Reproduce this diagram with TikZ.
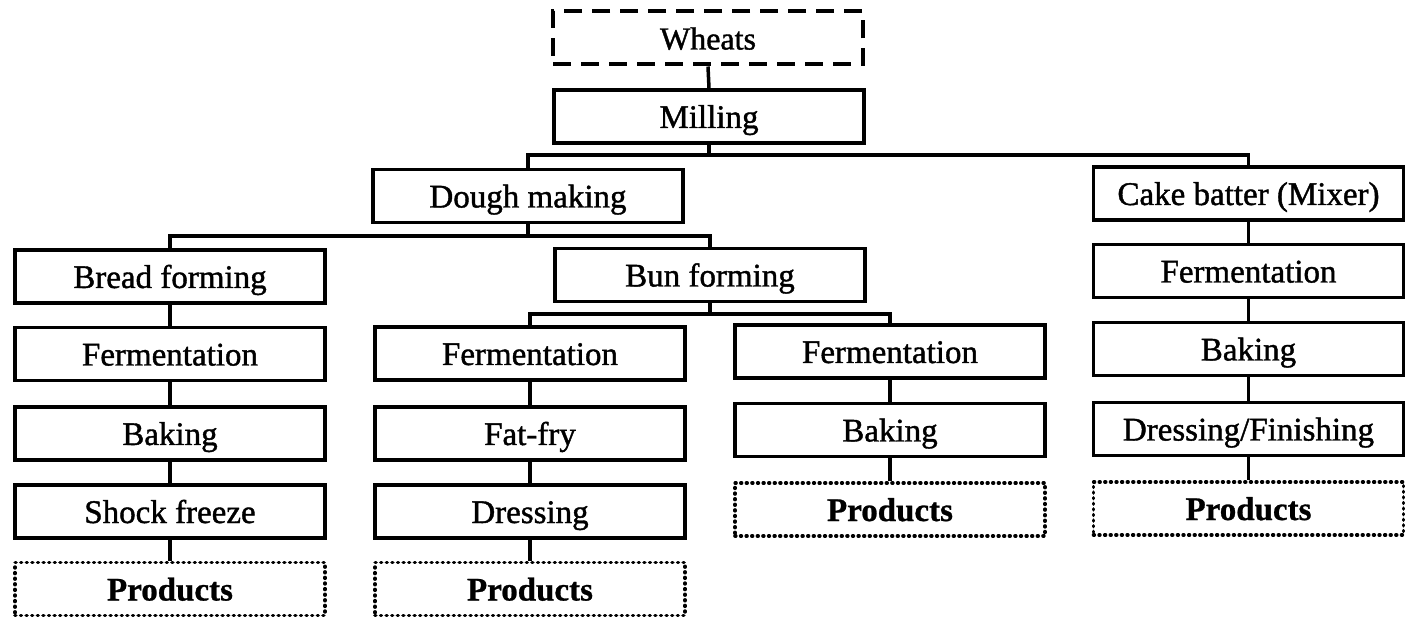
\documentclass[tikz,border=0pt]{standalone}
\usepackage{fontspec}
\setmainfont{Liberation Serif}
\newfontfamily\heavyserif[FakeBold=1.2]{Liberation Serif}
\newfontfamily\heavybold[FakeBold=0.8]{Liberation Serif Bold}
\begin{document}
\begin{tikzpicture}[x=1pt,y=-1pt,
  every node/.style={font=\fontsize{33}{36}\selectfont\heavyserif},
  box/.style={draw, line width=3.5pt, minimum width=310pt, minimum height=53pt,
    inner sep=0pt, text height=24.5pt, text depth=1.5pt, fill=white},
  prodbox/.style={box, line width=3.6pt, dash pattern=on 0.8pt off 4.8pt, line cap=round,
    font=\fontsize{33}{36}\selectfont\heavybold},
  wheatbox/.style={box, line width=4pt, dash pattern=on 18pt off 10pt,
    font=\fontsize{32}{36}\selectfont\heavyserif},
  link/.style={line width=3.5pt}]
\useasboundingbox (0,0) rectangle (1406,617);
% top
\node[wheatbox] (wheats) at (708,38) {Wheats};
\node[box] (milling) at (709,116.5) {Milling};
\node[box] (dough) at (528,196) {Dough making};
\node[box] (cake) at (1248.5,193.5) {Cake batter (Mixer)};
\node[box] (bread) at (170,276.5) {Bread forming};
\node[box] (bun) at (710,275) {Bun forming};
% left column
\node[box] (f1) at (170,354) {Fermentation};
\node[box] (b1) at (170,433.5) {Baking};
\node[box] (s1) at (170,511.5) {Shock freeze};
\node[prodbox] (p1) at (170,589) {Products};
% middle column
\node[box] (f2) at (530,353.5) {Fermentation};
\node[box] (ff2) at (530,433.5) {Fat-fry};
\node[box] (d2) at (530,511.5) {Dressing};
\node[prodbox] (p2) at (530,589) {Products};
% right-middle column
\node[box] (f3) at (890,351.5) {Fermentation};
\node[box] (b3) at (890,430) {Baking};
\node[prodbox] (p3) at (890,509.5) {Products};
% right column
\node[box] (f4) at (1248.5,271) {Fermentation};
\node[box] (b4) at (1248.5,349) {Baking};
\node[box] (d4) at (1248.5,429) {Dressing/Finishing};
\node[prodbox] (p4) at (1248.5,508.5) {Products};
% bus coordinates
\coordinate (busA) at (709,155);
\coordinate (busB) at (528,236);
\coordinate (busC) at (710,314);
% connectors
\draw[link] (wheats.south) -- (milling.north);
\draw[link] (milling.south) -- (busA);
\draw[link] (dough.north) |- (busA) -| (cake.north);
\draw[link] (dough.south) -- (busB);
\draw[link] (bread.north) |- (busB) -| (bun.north);
\draw[link] (bun.south) -- (busC);
\draw[link] (f2.north) |- (busC) -| (f3.north);
\draw[link] (bread) -- (f1);
\draw[link] (f1) -- (b1);
\draw[link] (b1) -- (s1);
\draw[link] (s1) -- (p1);
\draw[link] (f2) -- (ff2);
\draw[link] (ff2) -- (d2);
\draw[link] (d2) -- (p2);
\draw[link] (f3) -- (b3);
\draw[link] (b3) -- (p3);
\draw[link] (cake) -- (f4);
\draw[link] (f4) -- (b4);
\draw[link] (b4) -- (d4);
\draw[link] (d4) -- (p4);
\end{tikzpicture}
\end{document}
